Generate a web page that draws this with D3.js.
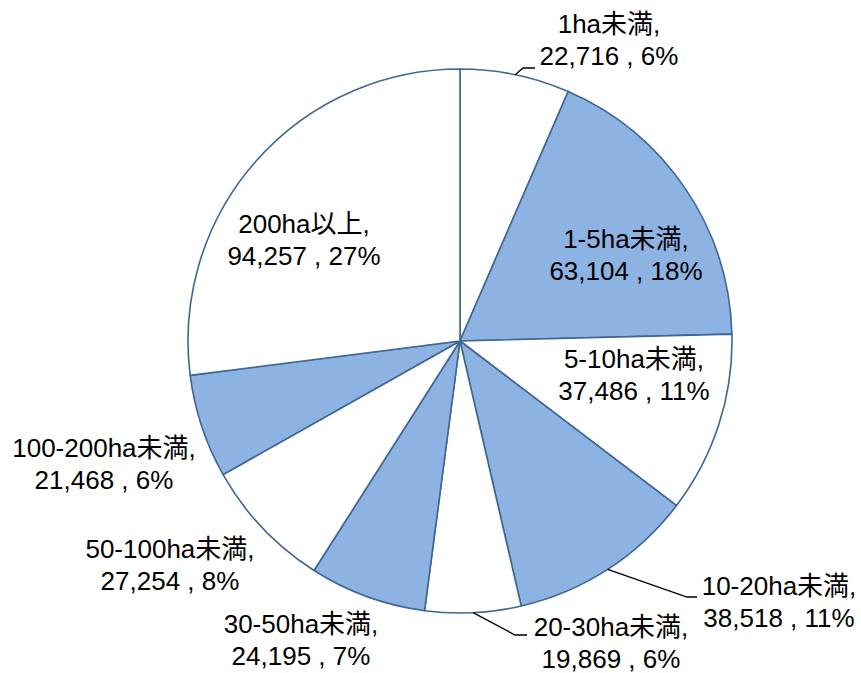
<!DOCTYPE html>
<html><head><meta charset="utf-8">
<script src="https://cdn.jsdelivr.net/npm/d3@7"></script>
<style>html,body{margin:0;padding:0;background:#fff;}svg{display:block;}</style>
</head><body>
<script>
const categories = ["1ha未満","1-5ha未満","5-10ha未満","10-20ha未満","20-30ha未満","30-50ha未満","50-100ha未満","100-200ha未満","200ha以上"];
const values = [22716,63104,37486,38518,19869,24195,27254,21468,94257];
const percents = ["6%","18%","11%","11%","6%","7%","8%","6%","27%"];

// layout (label anchors, px) and leader elbows
const labelPos = [[609,33],[626,248],[634,368],[779,595],[611,636],[301,633],[170,558],[104,457],[304,233]];
const leaders = {0:[[523,68],[535,68]],3:[[687,597],[697,597]],4:[[515,635],[527,635]]};

const W=861,H=673,cx=460,cy=341,R=272;
const svg=d3.select("body").append("svg").attr("width",W).attr("height",H);
const pie=d3.pie().sort(null).value(d=>d)(values);
const arc=d3.arc().innerRadius(0).outerRadius(R);
const g=svg.append("g").attr("transform",`translate(${cx},${cy})`);
g.selectAll("path").data(pie).join("path")
 .attr("d",arc)
 .attr("fill",(d,i)=>i%2? "#8DB3E2":"#FFFFFF")
 .attr("stroke","#3F6695").attr("stroke-width",1.6).attr("stroke-linejoin","round");

// leader lines
pie.forEach((d,i)=>{
  if(!leaders[i]) return;
  const a=(d.startAngle+d.endAngle)/2;
  const p0=[cx+R*Math.sin(a), cy-R*Math.cos(a)];
  const pts=[p0,...leaders[i]];
  svg.append("path").attr("d",d3.line()(pts)).attr("fill","none").attr("stroke","#000").attr("stroke-width",1.3);
});

const font="'Liberation Sans', Arial, 'Noto Sans CJK JP', sans-serif";
categories.forEach((c,i)=>{
  const t=svg.append("text").attr("text-anchor","middle").attr("font-family",font).attr("font-size",26).attr("fill","#000");
  t.append("tspan").attr("x",labelPos[i][0]).attr("y",labelPos[i][1]).text(c+",");
  t.append("tspan").attr("x",labelPos[i][0]).attr("y",labelPos[i][1]+32).text(d3.format(",")(values[i])+" , "+percents[i]);
});
</script>
</body></html>
